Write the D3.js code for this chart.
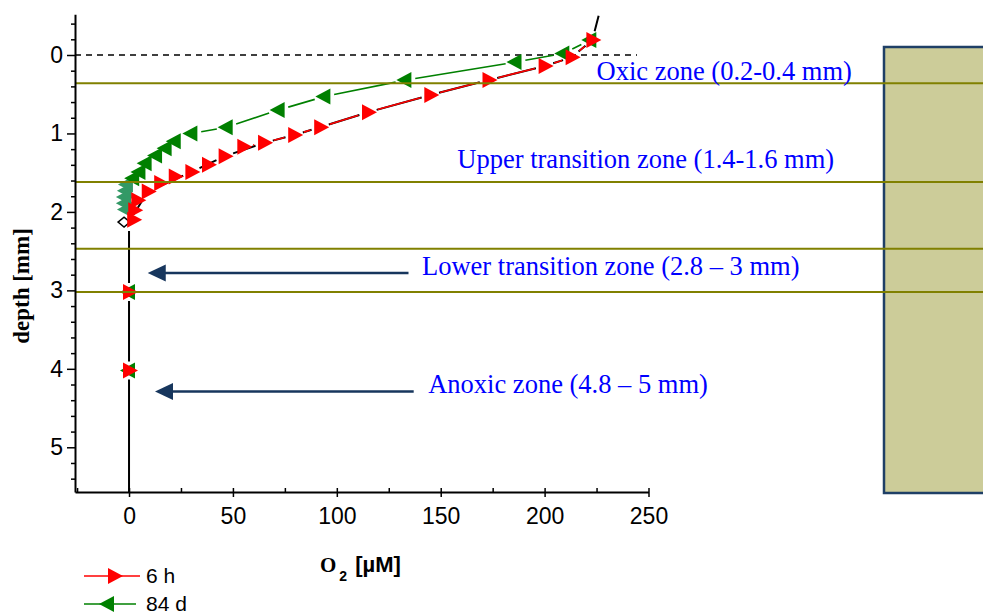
<!DOCTYPE html>
<html>
<head>
<meta charset="utf-8">
<script src="https://cdn.jsdelivr.net/npm/d3@7"></script>
<style>
  html, body { margin: 0; padding: 0; background: #fff; }
  svg { display: block; }
</style>
</head>
<body>
<div id="chart"></div>
<script>
// 6 h profile (red, right triangles)
const o2Red = [223, 213, 200, 173, 145, 115, 92, 79.5, 65, 55, 46, 38, 30, 22, 15, 9, 4, 2.5, 2, 0, 0];
const depthRed = [-0.19, 0.03, 0.14, 0.32, 0.51, 0.73, 0.92, 1.02, 1.12, 1.17, 1.29, 1.40, 1.49, 1.55, 1.63, 1.74, 1.85, 1.98, 2.10, 3.02, 4.02];

// 84 d profile (green, left triangles)
const o2Green = [222, 209, 186, 133, 94, 72, 47, 30, 22, 17.6, 13, 8, 5, 2, 0, 0];
const depthGreen = [-0.19, -0.02, 0.09, 0.32, 0.53, 0.70, 0.92, 1.00, 1.10, 1.19, 1.28, 1.38, 1.49, 1.57, 3.02, 4.02];

// 84 d deeper points (lighter green)
const o2Green2 = [-1, -1.5, -2, -2, -1.5];
const depthGreen2 = [1.65, 1.73, 1.81, 1.89, 1.97];

// black reference profile
const o2Black = [226, 223, 213, 200, 173, 145, 115, 92, 79.5, 65, 46, 30, 9, 0, 0, 0, 0];
const depthBlack = [-0.5, -0.19, 0.03, 0.14, 0.32, 0.51, 0.73, 0.92, 1.02, 1.12, 1.29, 1.49, 1.74, 2.13, 3.02, 4.02, 5.57];
const o2Diamond = [-2.4];
const depthDiamond = [2.13];

// zone boundaries (depth, mm)
const zoneLines = [0.36, 1.62, 2.47, 3.02];

// annotations
const zoneLabels = ['Oxic zone (0.2-0.4 mm)', 'Upper transition zone (1.4-1.6 mm)', 'Lower transition zone (2.8 \u2013 3 mm)', 'Anoxic zone (4.8 \u2013 5 mm)'];
const zoneLabelO2 = [225, 158, 141, 144];
const zoneLabelDepth = [0.32, 1.44, 2.81, 4.31];
const arrowTipO2 = [9, 12.5];
const arrowTailO2 = [134.5, 137];
const arrowDepth = [2.78, 4.29];

const xMajor = [0, 50, 100, 150, 200, 250];
const xMinor = [-25, 25, 75, 125, 175, 225];
const yMajor = [0, 1, 2, 3, 4, 5];
const yMinor = d3.range(-4, 55, 2).map((d) => d / 10).filter((d) => !yMajor.includes(d));

const W = 983, H = 614;
const SANS = '"Liberation Sans", Arial, sans-serif';
const SERIF = '"Liberation Serif", "Times New Roman", serif';

const svg = d3.select('#chart').append('svg').attr('width', W).attr('height', H);

const x = d3.scaleLinear().domain([-26, 250]).range([75, 648.5]);
const y = d3.scaleLinear().domain([-0.52, 5.57]).range([14.2, 492]);

// right side box
svg.append('rect')
  .attr('x', 884).attr('y', 47).attr('width', 120).attr('height', 446)
  .attr('fill', '#cccc99').attr('stroke', '#1f3f66').attr('stroke-width', 2.5);

// zero depth dashed line
svg.append('line')
  .attr('x1', x(-26)).attr('x2', 637).attr('y1', y(0)).attr('y2', y(0))
  .attr('stroke', '#000').attr('stroke-width', 1.5).attr('stroke-dasharray', '6,5');

// line with gaps around markers, broken across large depth gaps
const gappedPath = (o2s, depths, gap, openEnds, maxStep) => {
  const pts = o2s.map((v, i) => [x(v), y(depths[i])]);
  let d = '';
  for (let i = 0; i < pts.length - 1; i++) {
    if (maxStep && Math.abs(depths[i + 1] - depths[i]) > maxStep) continue;
    const [x0, y0] = pts[i], [x1, y1] = pts[i + 1];
    const len = Math.hypot(x1 - x0, y1 - y0);
    const g0 = openEnds && i === 0 ? 0 : gap;
    const g1 = openEnds && i + 1 === pts.length - 1 ? 0 : gap;
    if (len <= g0 + g1 + 1) continue;
    const ux = (x1 - x0) / len, uy = (y1 - y0) / len;
    d += 'M' + (x0 + ux * g0) + ',' + (y0 + uy * g0) + 'L' + (x1 - ux * g1) + ',' + (y1 - uy * g1);
  }
  return d;
};

const TRI_RIGHT = 'M-6,-8L9,0L-6,8Z';
const TRI_LEFT = 'M6,-8L-9,0L6,8Z';

svg.append('path')
  .attr('d', gappedPath(o2Black, depthBlack, 9, true))
  .attr('fill', 'none').attr('stroke', '#000').attr('stroke-width', 2);

svg.selectAll('.diamond').data(o2Diamond).enter().append('path')
  .attr('class', 'diamond')
  .attr('d', 'M-6,0L0,-5L6,0L0,5Z')
  .attr('transform', (d, i) => 'translate(' + x(d) + ',' + y(depthDiamond[i]) + ')')
  .attr('fill', '#fff').attr('stroke', '#000').attr('stroke-width', 1.5);

svg.append('path')
  .attr('d', gappedPath(o2Green, depthGreen, 10, false, 0.5))
  .attr('fill', 'none').attr('stroke', '#008000').attr('stroke-width', 1.6);

svg.selectAll('.g2').data(o2Green2).enter().append('path')
  .attr('class', 'g2')
  .attr('d', TRI_LEFT)
  .attr('transform', (d, i) => 'translate(' + x(d) + ',' + y(depthGreen2[i]) + ')')
  .attr('fill', '#339966');

svg.selectAll('.g').data(o2Green).enter().append('path')
  .attr('class', 'g')
  .attr('d', TRI_LEFT)
  .attr('transform', (d, i) => 'translate(' + x(d) + ',' + y(depthGreen[i]) + ')')
  .attr('fill', '#008000');

svg.append('path')
  .attr('d', gappedPath(o2Red, depthRed, 10, false, 0.5))
  .attr('fill', 'none').attr('stroke', '#ff0000').attr('stroke-width', 1.6);

svg.selectAll('.r').data(o2Red).enter().append('path')
  .attr('class', 'r')
  .attr('d', TRI_RIGHT)
  .attr('transform', (d, i) => 'translate(' + x(d) + ',' + y(depthRed[i]) + ')')
  .attr('fill', '#ff0000');

// zone boundary lines
svg.selectAll('.zone').data(zoneLines).enter().append('line')
  .attr('class', 'zone')
  .attr('x1', x(-26)).attr('x2', W)
  .attr('y1', (d) => y(d)).attr('y2', (d) => y(d))
  .attr('stroke', '#808000').attr('stroke-width', 2);

// arrows
const NAVY = '#17365d';
arrowDepth.forEach((dep, i) => {
  const yy = y(dep), xt = x(arrowTipO2[i]);
  svg.append('line')
    .attr('x1', xt + 14).attr('x2', x(arrowTailO2[i]))
    .attr('y1', yy).attr('y2', yy)
    .attr('stroke', NAVY).attr('stroke-width', 2.5);
  svg.append('path')
    .attr('d', 'M' + xt + ',' + yy + 'L' + (xt + 18) + ',' + (yy - 8.5) + 'L' + (xt + 18) + ',' + (yy + 8.5) + 'Z')
    .attr('fill', NAVY);
});

// zone labels
svg.selectAll('.zlabel').data(zoneLabels).enter().append('text')
  .attr('class', 'zlabel')
  .attr('x', (d, i) => x(zoneLabelO2[i]))
  .attr('y', (d, i) => y(zoneLabelDepth[i]))
  .attr('fill', '#0000ff')
  .style('font-family', SERIF).style('font-size', '26.5px')
  .text((d) => d);

// axes
const xAxis = svg.append('g').attr('transform', 'translate(0,492)')
  .call(d3.axisBottom(x).tickValues(xMajor).tickSizeInner(5).tickSizeOuter(0).tickPadding(11));
xAxis.selectAll('.tick line').attr('y1', -4).attr('y2', 5);
const xMin = svg.append('g').attr('transform', 'translate(0,492)')
  .call(d3.axisBottom(x).tickValues(xMinor).tickSize(1).tickFormat(''));
xMin.selectAll('.tick line').attr('y1', -4).attr('y2', 1);
xMin.select('.domain').remove();

const yAxis = svg.append('g').attr('transform', 'translate(75,0)')
  .call(d3.axisLeft(y).tickValues(yMajor).tickFormat(d3.format('d')).tickSizeInner(8).tickSizeOuter(0).tickPadding(4));
const yMin = svg.append('g').attr('transform', 'translate(75,0)')
  .call(d3.axisLeft(y).tickValues(yMinor).tickSize(4).tickFormat(''));
yMin.select('.domain').remove();

[xAxis, yAxis].forEach((g) => {
  g.select('.domain').attr('stroke-width', 2);
  g.selectAll('text').style('font-family', SANS).style('font-size', '23px').attr('fill', '#000');
});
svg.selectAll('.tick line').attr('stroke-width', 1.5);

// axis titles
svg.append('text')
  .attr('transform', 'translate(29,286) rotate(-90)')
  .attr('text-anchor', 'middle')
  .style('font-family', SERIF).style('font-weight', 'bold').style('font-size', '23px')
  .text('depth [mm]');

const xt = svg.append('text').attr('x', 320).attr('y', 572)
  .style('font-weight', 'bold');
xt.append('tspan').style('font-family', SERIF).style('font-size', '21px').text('O');
xt.append('tspan').attr('dx', 3).attr('dy', 9).style('font-family', SANS).style('font-size', '14px').text('2');
xt.append('tspan').attr('dx', 8).attr('dy', -9).style('font-family', SANS).style('font-size', '22px').text('[\u00b5M]');

// legend
const legendNames = ['6 h', '84 d'];
const legendColors = ['#ff0000', '#008000'];
const legendShapes = [TRI_RIGHT, TRI_LEFT];
const legendMarkX = [114, 108];
legendNames.forEach((name, i) => {
  const ly = 576 + i * 28;
  svg.append('line').attr('x1', 84).attr('x2', i === 0 ? 140 : 136).attr('y1', ly).attr('y2', ly)
    .attr('stroke', legendColors[i]).attr('stroke-width', 1.6);
  svg.append('path').attr('d', legendShapes[i])
    .attr('transform', 'translate(' + legendMarkX[i] + ',' + ly + ')')
    .attr('fill', legendColors[i]);
  svg.append('text').attr('x', 146).attr('y', ly + 7)
    .style('font-family', SANS).style('font-size', '21px').text(name);
});
</script>
</body>
</html>
